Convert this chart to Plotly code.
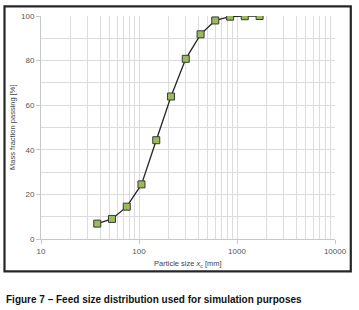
import plotly.graph_objects as go

particle_size_mm = [37.5, 53, 75, 106, 150, 212, 300, 425, 600, 850, 1200, 1700]
mass_passing_pct = [6.9, 9.0, 14.5, 24.5, 44.3, 63.9, 80.8, 91.8, 98.0, 99.7, 99.9, 100.0]

x_tick_vals = [10, 100, 1000, 10000]
x_tick_text = ["10", "100", "1000", "10000"]
y_tick_vals = [0, 20, 40, 60, 80, 100]

W, H = 359, 310
L, R = 41, 339
T, B = 14.7, 239.3
pw, ph = R - L, B - T

def px(x):
    return (x - L) / pw

def py(y):
    return (B - y) / ph

fig = go.Figure()
fig.add_trace(go.Scatter(
    x=particle_size_mm, y=mass_passing_pct, mode="lines+markers",
    line=dict(color="#262626", width=1.3),
    marker=dict(symbol="square", size=7, color="#9bbb59",
                line=dict(color="#3a3a3a", width=1)),
    showlegend=False, hoverinfo="x+y",
))

grid = "#dcdcdc"
axis_font = dict(family="Liberation Sans, Arial, sans-serif", size=8, color="#555555")

fig.update_layout(
    width=W, height=H,
    margin=dict(l=L, r=W - R, t=T, b=H - B, pad=0),
    paper_bgcolor="white", plot_bgcolor="white",
    xaxis=dict(
        type="log", range=[1, 4], tickvals=x_tick_vals, ticktext=x_tick_text,
        showgrid=True, gridcolor=grid, gridwidth=1,
        minor=dict(showgrid=True, gridcolor=grid, gridwidth=1, dtick="D1", ticks=""),
        showline=True, linecolor="#c8c8c8", linewidth=1,
        ticks="outside", ticklen=4, tickcolor="#c8c8c8",
        tickfont=axis_font, zeroline=False, fixedrange=True,
    ),
    yaxis=dict(
        range=[0, 100], tickvals=y_tick_vals,
        showgrid=True, gridcolor=grid, gridwidth=1,
        minor=dict(showgrid=True, gridcolor=grid, gridwidth=1, dtick=10, ticks=""),
        showline=True, linecolor="#c8c8c8", linewidth=1,
        ticks="outside", ticklen=4, tickcolor="#c8c8c8",
        tickfont=axis_font, zeroline=False, fixedrange=True,
    ),
    shapes=[dict(
        type="rect", xref="paper", yref="paper",
        x0=px(4), x1=px(355), y0=py(272), y1=py(5),
        line=dict(color="#262626", width=2.2), fillcolor="rgba(0,0,0,0)", layer="above",
    )],
    annotations=[
        dict(text="Mass fraction passing [%]", textangle=-90, xref="paper", yref="paper",
             x=px(12), y=py(127), xanchor="center", yanchor="middle", showarrow=False,
             font=dict(family="Liberation Sans, Arial, sans-serif", size=7.5, color="#444444")),
        dict(text="Particle size <i>x</i><sub>c</sub> [mm]", xref="paper", yref="paper",
             x=px(190), y=py(264), xanchor="center", yanchor="middle", showarrow=False,
             font=dict(family="Liberation Sans, Arial, sans-serif", size=7.5, color="#444444")),
        dict(text="<b>Figure 7 – Feed size distribution used for simulation purposes</b>",
             xref="paper", yref="paper", x=px(4), y=py(300), xanchor="left", yanchor="middle",
             showarrow=False,
             font=dict(family="Liberation Sans, Arial, sans-serif", size=10, color="#111111")),
    ],
)

fig.write_html("out.html", config={"displayModeBar": False},
               post_script="document.body.style.margin='0';document.body.style.overflow='hidden';")
